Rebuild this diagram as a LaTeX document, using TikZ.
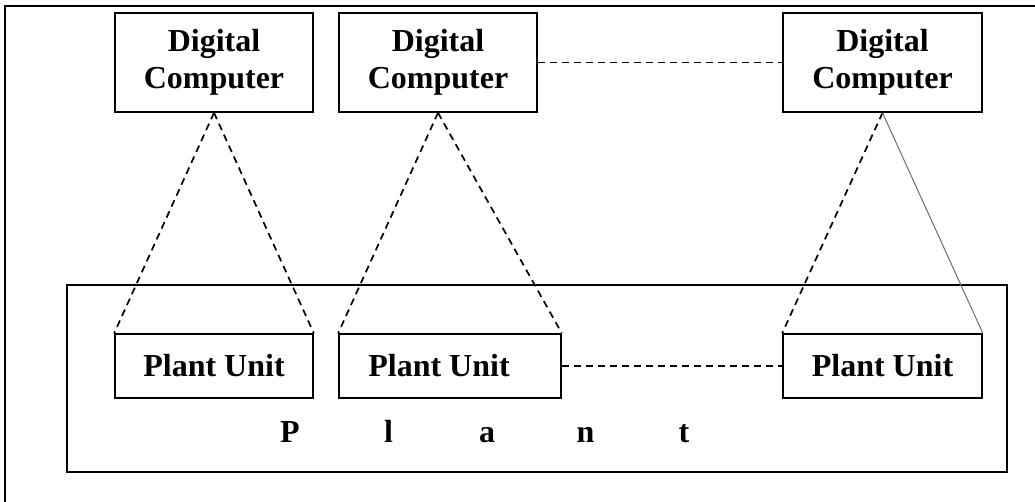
\documentclass[tikz,border=0pt]{standalone}
\usepackage{fontspec}
\setmainfont{Liberation Serif}
\definecolor{linkgray}{RGB}{110, 110, 110}
\usetikzlibrary{positioning, calc}

\tikzset{
  unitbox/.style={draw, line width=1.6pt, align=center, inner sep=0pt,
    font=\bfseries\fontsize{32}{37}\selectfont},
  link/.style={line width=1.7pt, dash pattern=on 7pt off 5pt},
}

\begin{document}
\begin{tikzpicture}[x=1pt, y=-1pt]
  \useasboundingbox (0,0) rectangle (1035,502);
  % outer frame
  \coordinate (fbl) at (5,502);
  \coordinate (ftl) at (5,6);
  \coordinate (ftr) at (1035,6);
  \draw[line width=1.8pt] (fbl) -- (ftl) -- (ftr);

  % plant
  \node[draw, line width=1.6pt, minimum width=940pt, minimum height=187pt] (plant) at (537,378.5) {};

  % computers
  \node[unitbox, minimum width=198pt, minimum height=99pt] (dc1) at (214,62.5) {Digital\\Computer};
  \node[unitbox, minimum width=198pt, minimum height=99pt] (dc2) at (438,62.5) {Digital\\Computer};
  \node[unitbox, minimum width=199pt, minimum height=99pt] (dc3) at (882.5,62.5) {Digital\\Computer};

  % plant units
  \node[unitbox, minimum width=198pt, minimum height=64pt] (pu1) at (214,366) {Plant Unit};
  \node[unitbox, minimum width=222pt, minimum height=64pt] (pu2) at (450,366) {Plant Unit\hspace{22pt}};
  \node[unitbox, minimum width=199pt, minimum height=64pt] (pu3) at (882.5,366) {Plant Unit};

  \foreach \ch [count=\i] in {P,l,a,n,t}
    \node[anchor=base, inner sep=0pt, font=\bfseries\fontsize{32}{35}\selectfont] (let\i) at ({290+98.5*(\i-1)},442) {\ch};

  % links
  \draw[link] (dc1.south) -- (pu1.north west);
  \draw[link] (dc1.south) -- (pu1.north east);
  \draw[link] (dc2.south) -- (pu2.north west);
  \draw[link] (dc2.south) -- (pu2.north east);
  \draw[link] (dc3.south) -- (pu3.north west);
  \draw[linkgray, line width=1pt] (dc3.south) -- (pu3.north east);
  \draw[link] (dc2.east) -- (dc3.west);
  \draw[link] (pu2.east) -- (pu3.west);
\end{tikzpicture}
\end{document}
